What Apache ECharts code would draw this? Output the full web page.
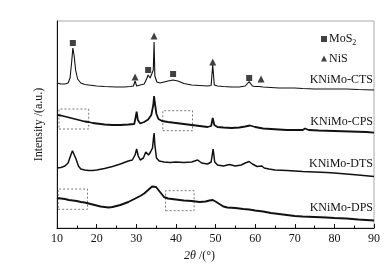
<!DOCTYPE html>
<html>
<head>
<meta charset="utf-8">
<script src="https://cdn.jsdelivr.net/npm/echarts@6/dist/echarts.min.js"></script>
<style>
  html, body { margin: 0; padding: 0; background: #fff; }
  #main { width: 392px; height: 272px; }
</style>
</head>
<body>
<div id="main"></div>
<script>
// XRD patterns, intensity in arbitrary units (curves are stacked with offsets)
const ctsPoints = [[10,145],[11,144],[12,144],[12.8,145],[13.3,150],[13.7,166],[14.0,180],[14.3,173],[14.7,158],[15.2,149],[16,145],[17,143.5],[18,143],[20,142],[22,141.5],[25,141],[27,141],[28.5,141.5],[29.3,142],[29.7,147],[30.1,142],[31,143],[32,144],[32.6,149],[33.0,153],[33.5,150],[34.0,149],[34.3,158],[34.5,186],[34.7,152],[35.2,146],[36,145],[37,146],[38,147],[39.3,148],[40.5,147],[42,144.5],[44,143],[46,142.5],[48,142],[48.9,142.5],[49.3,163],[49.7,143],[50.5,142],[52,141.5],[54,141],[56,141],[57.5,142],[58.5,146.3],[59.3,142],[60,141.5],[61,141.5],[61.5,143.5],[62,141],[64,140.5],[66,140],[70,140],[72,139.5],[75,139],[80,139],[82,139],[82.5,140.5],[83,139],[86,138.5],[90,138]];
const cpsPoints = [[10,113],[11,112.5],[12,111.5],[13,110.5],[14,109.5],[15,108.5],[16,107.5],[17,106.5],[18,106],[19,105],[20,104.5],[22,103.5],[24,103],[26,103],[28,103.5],[29.5,104],[29.8,110],[30.1,116.3],[30.4,108],[31,104.5],[32,106],[33,108.5],[33.8,113],[34.3,123],[34.5,132],[34.7,125],[35.1,114],[35.6,109],[36.5,107],[38,106],[40,105],[42,104],[44,103],[46,102],[48,101],[48.9,102],[49.3,110],[49.7,103],[50.5,101],[52,100.5],[54,100],[56,100.5],[57.5,101.5],[58.7,102.5],[60,101],[62,99.5],[64,99],[66,98.5],[68,98],[70,98],[72,98],[72.6,99.5],[73.5,98],[76,97.5],[80,97],[84,96.5],[88,96],[90,95.3]];
const dtsPoints = [[10,60],[11,60.5],[12,62],[12.8,65],[13.4,72],[13.9,77.3],[14.3,76],[14.8,69],[15.4,62],[16,59],[17,58],[18,57.5],[19,57.5],[20,58],[22,59.5],[24,61.5],[26,64],[27,65.5],[28,67],[29,68],[29.7,73],[30.1,79],[30.5,72],[31,68],[31.8,70],[32.4,76],[32.7,77.3],[33.1,73],[33.6,76],[34.1,80],[34.3,88],[34.5,95],[34.7,83],[35.1,70],[35.8,67],[37,66],[38.5,65.5],[40,66],[42,65.5],[44,66],[45.5,68],[46.5,65],[48,64],[48.9,66],[49.4,79],[49.8,66],[50.5,63],[52,62],[53.5,63.5],[55,62],[56.5,63],[57.5,65],[58.5,66.5],[59.3,64],[60.5,61.5],[61,60.5],[61.7,62],[62.3,60],[63.5,59],[65,58],[68,57.5],[70,57],[72,56.5],[75,56],[78,55.5],[80,55],[83,54],[86,53],[90,51.5]];
const dpsPoints = [[10,30],[11,29.5],[12,29],[13,28],[14,27.5],[15,27],[16,26],[17,25.5],[18,24.5],[19,23.5],[20,22.5],[21,21.5],[22,21],[23,20.5],[24,21],[25,22],[26,23],[27,24.5],[28,26],[29,28],[30,30],[31,32],[32,34.5],[33,38],[34,41.5],[34.5,43],[35,41],[36,36],[37,31],[38,29.5],[40,28.5],[42,27.5],[44,27],[46,26],[47.5,26.5],[48.5,27.5],[49.3,28],[50,26.5],[51,24],[52,21.5],[53,20.5],[55,20],[57,19],[58.5,18.5],[60,17.5],[62,16.5],[64,15],[66,14],[68,13],[70,12],[72,11.5],[75,11],[78,10.5],[80,10],[83,9.5],[86,8.5],[90,7.5]];

// phase markers above the KNiMo-CTS peaks
const mos2Marks = [[14.0,185],[33.0,158],[39.3,154],[58.5,150]];
const nisMarks = [[29.7,151],[34.5,192],[49.3,166],[61.5,149]];

const sampleNames = ["KNiMo-CTS", "KNiMo-CPS", "KNiMo-DTS", "KNiMo-DPS"];
const sampleLabelY = [81, 123, 165, 209];

// dashed boxes: [x0, y0, x1, y1] in data units
const cpsBoxes = [[10.5,99,18,119],[36.7,97.3,44.2,117.3]];
const dpsBoxes = [[10.3,18.7,17.7,39],[37.4,17.3,44.6,37.3]];

const serif = "'Liberation Serif', 'Times New Roman', serif";
const ink = "#111";

const toArea = (boxes) => ({
  silent: true,
  itemStyle: {
    color: "rgba(0,0,0,0)",
    borderColor: "#555",
    borderWidth: 0.8,
    borderType: [2, 2],
  },
  data: boxes.map((b) => [{ coord: [b[0], b[1]] }, { coord: [b[2], b[3]] }]),
});

const lineSeries = (name, data, width, boxes) => ({
  name,
  type: "line",
  data,
  symbol: "none",
  smooth: false,
  lineStyle: { color: ink, width },
  markArea: boxes ? toArea(boxes) : undefined,
  z: 3,
});

const chart = echarts.init(document.getElementById("main"), null, { renderer: "canvas" });

chart.setOption({
  animation: false,
  backgroundColor: "#fff",
  grid: {
    left: 57,
    right: 18,
    top: 21,
    bottom: 44,
    show: true,
    borderColor: "#aaa",
    borderWidth: 1,
  },
  legend: {
    orient: "vertical",
    left: 316,
    top: 28,
    itemWidth: 6,
    itemHeight: 6,
    itemGap: 6,
    data: [
      { name: "MoS2", icon: "rect" },
      { name: "NiS", icon: "triangle" },
    ],
    formatter: (name) => (name === "MoS2" ? "{a|MoS}{s|2}" : "{a|" + name + "}"),
    textStyle: {
      padding: [0, 0, 0, -3],
      rich: {
        a: { fontFamily: serif, fontSize: 12, color: ink },
        s: { fontFamily: serif, fontSize: 8, color: ink, padding: [7, 0, 0, 0] },
      },
    },
  },
  xAxis: {
    type: "value",
    min: 10,
    max: 90,
    interval: 10,
    name: "{i|2θ} /(°)",
    nameLocation: "middle",
    nameGap: 22,
    nameTextStyle: {
      fontFamily: serif,
      fontSize: 12,
      color: ink,
      padding: [0, 32, 0, 0],
      rich: { i: { fontFamily: serif, fontSize: 12, fontStyle: "italic", color: ink } },
    },
    axisLine: { onZero: false, lineStyle: { color: ink, width: 1 } },
    axisTick: { inside: true, length: 4, lineStyle: { color: ink } },
    minorTick: { show: true, splitNumber: 2, length: 2.5, lineStyle: { color: ink } },
    axisLabel: { fontFamily: serif, fontSize: 12, color: ink, margin: 5 },
    splitLine: { show: false },
  },
  yAxis: {
    type: "value",
    min: 0,
    max: 207,
    name: "Intensity /(a.u.)",
    nameLocation: "middle",
    nameGap: 12,
    nameTextStyle: { fontFamily: serif, fontSize: 12, color: ink },
    axisLine: { show: true, lineStyle: { color: ink, width: 1 } },
    axisTick: { show: false },
    axisLabel: { show: false },
    splitLine: { show: false },
  },
  graphic: sampleNames.map((name, i) => ({
    type: "text",
    right: 19,
    top: sampleLabelY[i] - 7,
    style: { text: name, fontFamily: serif, fontSize: 12, fill: ink },
  })),
  series: [
    lineSeries("CTS", ctsPoints, 1.1),
    lineSeries("CPS", cpsPoints, 1.8, cpsBoxes),
    lineSeries("DTS", dtsPoints, 1.5),
    lineSeries("DPS", dpsPoints, 1.9, dpsBoxes),
    {
      name: "MoS2",
      type: "scatter",
      data: mos2Marks,
      symbol: "rect",
      symbolSize: 6,
      itemStyle: { color: ink },
      z: 4,
    },
    {
      name: "NiS",
      type: "scatter",
      data: nisMarks,
      symbol: "triangle",
      symbolSize: 7,
      itemStyle: { color: ink },
      z: 4,
    },
  ],
});
</script>
</body>
</html>
